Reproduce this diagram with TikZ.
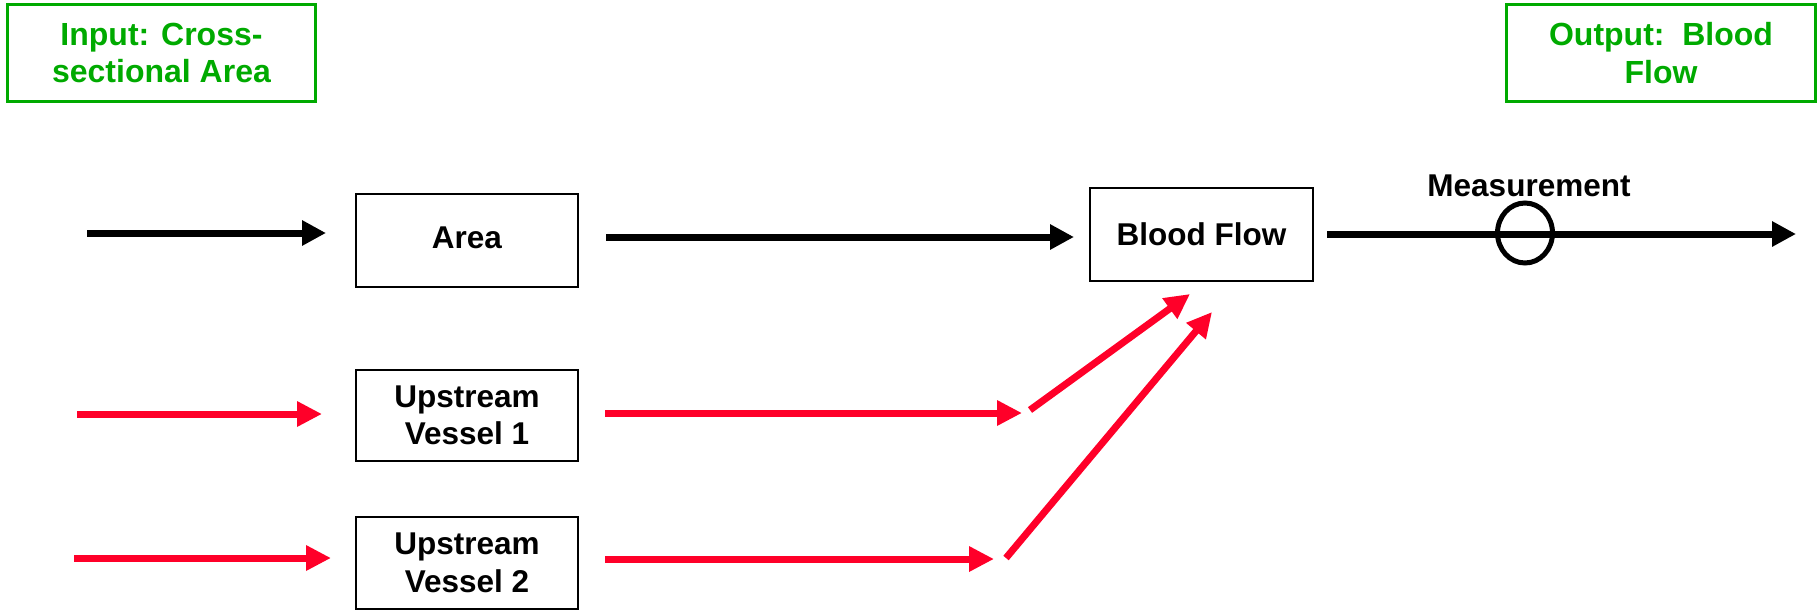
\documentclass[tikz,border=0pt]{standalone}
\usepackage{fontspec}
\setmainfont{Liberation Sans}
\usetikzlibrary{arrows.meta,shapes.geometric}
\definecolor{grn}{RGB}{0,170,0}
\definecolor{rd}{RGB}{255,0,41}
\begin{document}
\begin{tikzpicture}[x=1pt,y=-1pt,
  blkbox/.style={draw=black, line width=2.5pt, inner sep=0pt, align=center,
    font=\fontsize{31.5}{37.5}\selectfont\bfseries},
  gbox/.style={draw=grn, line width=3pt, inner sep=0pt, align=center, text=grn,
    font=\fontsize{32}{37.5}\selectfont\bfseries},
  blkarrow/.style={draw=black, line width=7pt, -{Triangle[length=24pt,width=24pt]}},
  redarrow/.style={draw=rd, color=rd, line width=7pt, -{Triangle[length=25pt,width=24pt]}},
]
\useasboundingbox (0,0) rectangle (1820,611);

% green boxes
\node[gbox, minimum width=308pt, minimum height=97pt] (inbox) at (161.5,53) {Input: Cross-\\sectional Area};
\node[gbox, minimum width=309pt, minimum height=97pt] (outbox) at (1661,53) {Output:\ \ Blood\\Flow};

% black boxes
\node[blkbox, minimum width=222pt, minimum height=93pt] (area) at (467,240.5) {\raisebox{5.5pt}{Area}};
\node[blkbox, minimum width=223pt, minimum height=93pt] (bf) at (1201.5,234.5) {\raisebox{-2pt}{Blood Flow}};
\node[blkbox, minimum width=222pt, minimum height=91pt] (uv1) at (467,415.5) {Upstream\\Vessel 1};
\node[blkbox, minimum width=222pt, minimum height=92pt] (uv2) at (467,563) {Upstream\\Vessel 2};

% measurement
\node[font=\fontsize{31.5}{38}\selectfont\bfseries, anchor=base, inner sep=0pt] (mtext) at (1529,196) {Measurement};

% coordinates
\coordinate (a1s) at (87,233);   \coordinate (a1e) at (326,233);
\coordinate (a2s) at (606,237);  \coordinate (a2e) at (1074,237);
\coordinate (a3s) at (1327,234); \coordinate (a3e) at (1796,234);
\coordinate (r1s) at (77,414);   \coordinate (r1e) at (322,414);
\coordinate (r2s) at (74,558);   \coordinate (r2e) at (331,558);
\coordinate (r3s) at (605,413);  \coordinate (r3e) at (1022,413);
\coordinate (r4s) at (605,559);  \coordinate (r4e) at (994,559);
\coordinate (d1s) at (1030,410); \coordinate (d1e) at (1190,294);
\coordinate (d2s) at (1006,558); \coordinate (d2e) at (1212,312);

% black arrows
\draw[blkarrow] (a1s) -- (a1e);
\draw[blkarrow] (a2s) -- (a2e);
\draw[blkarrow] (a3s) -- (a3e);

% measurement ellipse
\node[ellipse, draw=black, line width=5pt, minimum width=55pt, minimum height=60pt, inner sep=0pt] (meas) at (1525,233) {};

% red arrows
\draw[redarrow] (r1s) -- (r1e);
\draw[redarrow] (r2s) -- (r2e);
\draw[redarrow] (r3s) -- (r3e);
\draw[redarrow] (r4s) -- (r4e);
\draw[redarrow] (d1s) -- (d1e);
\draw[redarrow] (d2s) -- (d2e);
\end{tikzpicture}
\end{document}
